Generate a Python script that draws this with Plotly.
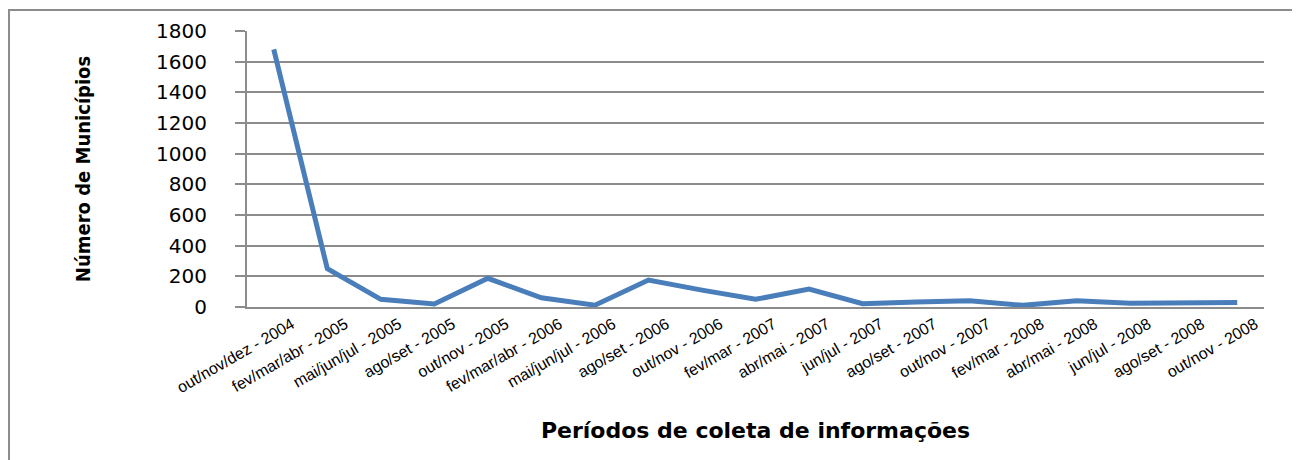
import plotly.graph_objects as go

# Periods of data collection (categories)
periodos = [
    "out/nov/dez - 2004", "fev/mar/abr - 2005", "mai/jun/jul - 2005",
    "ago/set - 2005", "out/nov - 2005", "fev/mar/abr - 2006",
    "mai/jun/jul - 2006", "ago/set - 2006", "out/nov - 2006",
    "fev/mar - 2007", "abr/mai - 2007", "jun/jul - 2007",
    "ago/set - 2007", "out/nov - 2007", "fev/mar - 2008",
    "abr/mai - 2008", "jun/jul - 2008", "ago/set - 2008",
    "out/nov - 2008",
]
# Number of municipalities per period
municipios = [1680, 250, 50, 20, 187, 60, 12, 176, 110, 50,
              117, 22, 32, 40, 11, 40, 25, 30, 30]

y_ticks = [0, 200, 400, 600, 800, 1000, 1200, 1400, 1600, 1800]

grid_grey = "#8c8c8c"

fig = go.Figure()
fig.add_trace(go.Scatter(
    x=periodos, y=municipios,
    mode="lines",
    line=dict(color="#4a7ebb", width=5),
    showlegend=False,
))

# page body has an 8px margin, so the figure is a bit smaller than the window
fig.update_layout(
    width=1292, height=452,
    margin=dict(l=239, r=36, t=23, b=153),
    paper_bgcolor="white",
    plot_bgcolor="white",
    font=dict(family="DejaVu Sans", color="black"),
    xaxis=dict(
        type="category",
        range=[-0.5, len(periodos) - 0.5],
        tickangle=-30,
        tickfont=dict(family="Liberation Sans", size=16, color="black"),
        ticklabelshift=18,
        showgrid=False,
        showline=True, linecolor=grid_grey, linewidth=2,
        ticks="",
        title=dict(
            text="<b>Períodos de coleta de informações</b>",
            font=dict(family="DejaVu Sans", size=22, color="black"),
            standoff=28,
        ),
    ),
    yaxis=dict(
        range=[0, 1800],
        tickvals=y_ticks,
        tickfont=dict(family="DejaVu Sans", size=20, color="black"),
        showgrid=True, gridcolor=grid_grey, gridwidth=2,
        showline=True, linecolor=grid_grey, linewidth=2,
        ticks="outside", ticklen=10, tickcolor=grid_grey, tickwidth=2,
        ticklabelstandoff=24,
        zeroline=False,
        title=dict(
            text="<b>Número de Municípios</b>",
            font=dict(family="DejaVu Sans Condensed, DejaVu Sans", size=20, color="black"),
            standoff=60,
        ),
    ),
)

# outer chart frame (left and top edges visible in the picture)
fig.add_shape(
    type="rect", xref="paper", yref="paper",
    x0=-0.234, x1=1.06, y0=-0.65, y1=1.076,
    line=dict(color="#8c8c8c", width=2),
    layer="below",
)

fig.write_html("out.html")
